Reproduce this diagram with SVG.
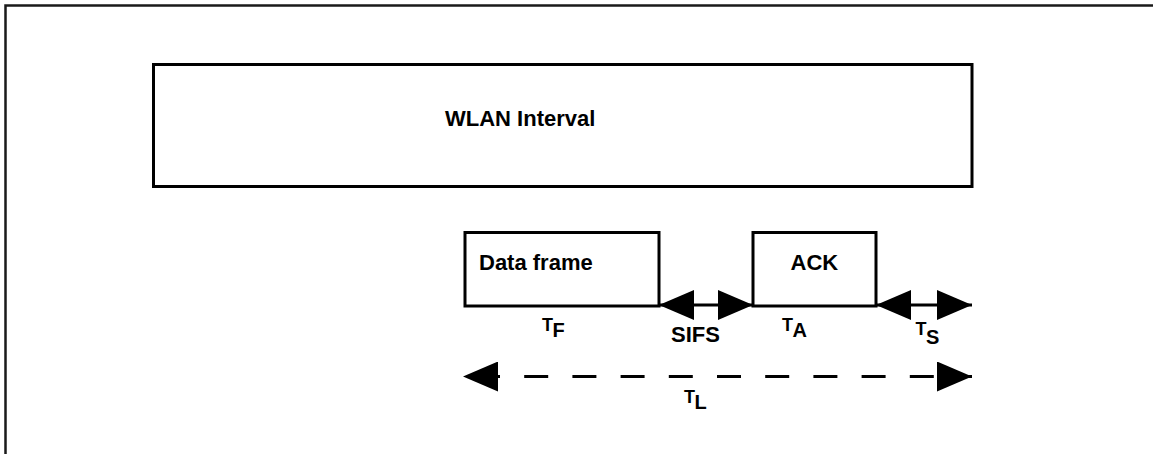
<svg xmlns="http://www.w3.org/2000/svg" width="1153" height="454" viewBox="0 0 1153 454">
  <style>
    .box { fill: #ffffff; stroke: #000000; stroke-width: 3; }
    .lbl { font-family: "Liberation Sans", Arial, Helvetica, sans-serif; font-weight: bold; fill: #000000; }
    .big { font-size: 22px; }
    .sym { font-size: 18px; }
    .sub { font-size: 20px; }
    .conn { stroke: #000000; stroke-width: 3; fill: none; }
  </style>
  <defs>
    <marker id="arrow" viewBox="0 0 35 30" refX="35" refY="15" markerWidth="35" markerHeight="30" markerUnits="userSpaceOnUse" orient="auto-start-reverse">
      <path d="M0,0 L35,15 L0,30 z" fill="#000000"/>
    </marker>
  </defs>
  <rect x="0" y="0" width="1153" height="454" fill="#ffffff"/>
  <path d="M5.5,454 V5.5 H1153" fill="none" stroke="#1a1a1a" stroke-width="2.5"/>

  <g id="wlan-interval">
    <rect class="box" x="153.5" y="64.5" width="818.5" height="122"/>
    <text class="lbl big" x="445" y="126">WLAN Interval</text>
  </g>

  <g id="data-frame">
    <rect class="box" x="465" y="232.5" width="194" height="73.5"/>
    <text class="lbl big" x="479" y="270">Data frame</text>
  </g>

  <g id="ack">
    <rect class="box" x="753" y="232.5" width="123" height="73.5"/>
    <text class="lbl big" x="790.5" y="270">ACK</text>
  </g>

  <g id="connectors">
    <line class="conn" x1="659" y1="305" x2="753" y2="305" marker-start="url(#arrow)" marker-end="url(#arrow)"/>
    <line class="conn" x1="876" y1="305" x2="972" y2="305" marker-start="url(#arrow)" marker-end="url(#arrow)"/>
    <line class="conn" x1="463" y1="376.5" x2="972" y2="376.5" stroke-dasharray="24 24.2" stroke-dashoffset="-13" marker-start="url(#arrow)" marker-end="url(#arrow)"/>
  </g>

  <g id="labels">
    <text class="lbl sym" x="542" y="330.5">T<tspan class="sub" x="552.5" y="337">F</tspan></text>
    <text class="lbl big" x="671" y="342">SIFS</text>
    <text class="lbl sym" x="782" y="330.5">T<tspan class="sub" x="792.5" y="337">A</tspan></text>
    <text class="lbl sym" x="915.5" y="334.5">T<tspan class="sub" x="926" y="343.5">S</tspan></text>
    <text class="lbl sym" x="684" y="402.5">T<tspan class="sub" x="694.5" y="409">L</tspan></text>
  </g>
</svg>
